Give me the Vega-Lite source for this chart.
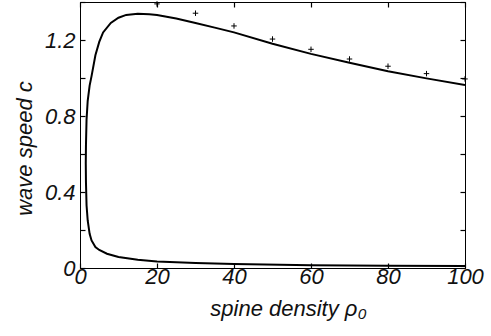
{
  "$schema": "https://vega.github.io/schema/vega-lite/v6.json",
  "width": 385,
  "height": 266,
  "autosize": {"type": "none"},
  "padding": {"left": 80, "top": 2, "right": 26, "bottom": 68},
  "background": "white",
  "config": {
    "view": {"stroke": "black", "strokeWidth": 1},
    "axis": {
      "labelFont": "Liberation Sans", "labelFontStyle": "italic", "labelFontSize": 22, "labelColor": "#111",
      "titleFont": "Liberation Sans", "titleFontStyle": "italic", "titleFontWeight": "normal", "titleFontSize": 22, "titleColor": "#111",
      "domainColor": "black", "domainWidth": 1, "tickColor": "black", "tickSize": -5, "tickWidth": 1.2, "grid": false
    }
  },
  "datasets": {
    "curve": [
      {"i": 1, "rho": 100, "c": 0.010},
      {"i": 2, "rho": 80, "c": 0.012},
      {"i": 3, "rho": 60, "c": 0.015},
      {"i": 4, "rho": 40, "c": 0.021},
      {"i": 5, "rho": 30, "c": 0.026},
      {"i": 6, "rho": 20, "c": 0.034},
      {"i": 7, "rho": 15, "c": 0.043},
      {"i": 8, "rho": 10, "c": 0.058},
      {"i": 9, "rho": 7, "c": 0.075},
      {"i": 10, "rho": 5, "c": 0.095},
      {"i": 11, "rho": 4, "c": 0.11},
      {"i": 12, "rho": 3, "c": 0.145},
      {"i": 13, "rho": 2.5, "c": 0.18},
      {"i": 14, "rho": 2.0, "c": 0.25},
      {"i": 15, "rho": 1.7, "c": 0.33},
      {"i": 16, "rho": 1.55, "c": 0.45},
      {"i": 17, "rho": 1.5, "c": 0.55},
      {"i": 18, "rho": 1.55, "c": 0.65},
      {"i": 19, "rho": 1.7, "c": 0.78},
      {"i": 20, "rho": 2.0, "c": 0.88},
      {"i": 21, "rho": 2.5, "c": 0.96},
      {"i": 22, "rho": 3.0, "c": 1.01},
      {"i": 23, "rho": 4.0, "c": 1.12},
      {"i": 24, "rho": 5.0, "c": 1.19},
      {"i": 25, "rho": 6.0, "c": 1.24},
      {"i": 26, "rho": 8.0, "c": 1.29},
      {"i": 27, "rho": 10, "c": 1.317},
      {"i": 28, "rho": 12, "c": 1.332},
      {"i": 29, "rho": 15, "c": 1.338},
      {"i": 30, "rho": 18, "c": 1.336},
      {"i": 31, "rho": 20, "c": 1.332},
      {"i": 32, "rho": 25, "c": 1.313},
      {"i": 33, "rho": 30, "c": 1.29},
      {"i": 34, "rho": 35, "c": 1.265},
      {"i": 35, "rho": 40, "c": 1.24},
      {"i": 36, "rho": 50, "c": 1.18},
      {"i": 37, "rho": 60, "c": 1.127},
      {"i": 38, "rho": 70, "c": 1.08},
      {"i": 39, "rho": 80, "c": 1.035},
      {"i": 40, "rho": 90, "c": 0.998},
      {"i": 41, "rho": 100, "c": 0.963}
    ],
    "crosses": [
      {"rho": 20, "c": 1.39},
      {"rho": 30, "c": 1.341},
      {"rho": 40, "c": 1.274},
      {"rho": 50, "c": 1.205},
      {"rho": 60, "c": 1.151},
      {"rho": 70, "c": 1.10},
      {"rho": 80, "c": 1.062},
      {"rho": 90, "c": 1.023},
      {"rho": 100, "c": 0.995}
    ]
  },
  "layer": [
    {
      "data": {"name": "curve"},
      "mark": {"type": "line", "color": "black", "strokeWidth": 2, "clip": true},
      "encoding": {
        "x": {"field": "rho", "type": "quantitative", "scale": {"domain": [0, 100], "nice": false},
          "axis": {"orient": "bottom", "values": [0, 20, 40, 60, 80, 100], "labelPadding": 3, "title": "spine density ρ₀", "titlePadding": 11, "titleX": 208, "labelFlush": false}},
        "y": {"field": "c", "type": "quantitative", "scale": {"domain": [0, 1.4], "nice": false},
          "axis": {"orient": "left", "values": [0, 0.2, 0.4, 0.6, 0.8, 1, 1.2, 1.4], "format": "~g",
            "labelExpr": "abs(datum.value/0.4 - round(datum.value/0.4)) < 0.01 ? datum.label : ''",
            "labelPadding": 10, "title": "wave speed c", "titlePadding": 8, "titleY": 146, "labelFlush": false}},
        "order": {"field": "i", "type": "quantitative"}
      }
    },
    {
      "data": {"name": "crosses"},
      "mark": {"type": "point", "shape": "M-1,0L1,0M0,-1L0,1", "size": 30, "stroke": "black", "strokeWidth": 1, "filled": false, "opacity": 1, "clip": false},
      "encoding": {
        "x": {"field": "rho", "type": "quantitative",
          "axis": {"orient": "top", "values": [0, 20, 40, 60, 80, 100], "labels": false, "title": null}},
        "y": {"field": "c", "type": "quantitative",
          "axis": {"orient": "right", "values": [0, 0.2, 0.4, 0.6, 0.8, 1, 1.2, 1.4], "labels": false, "title": null}}
      }
    }
  ],
  "resolve": {"axis": {"x": "independent", "y": "independent"}}
}
